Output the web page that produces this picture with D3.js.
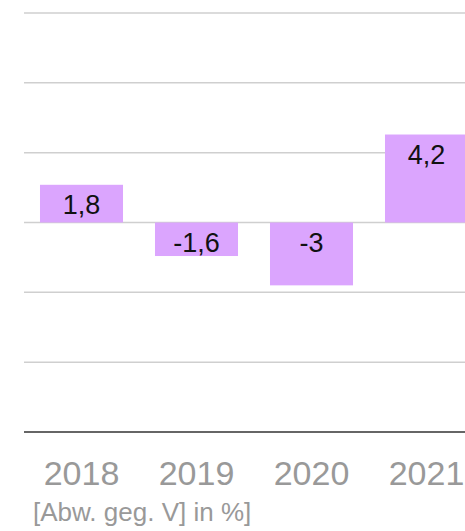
<!DOCTYPE html>
<html>
<head>
<meta charset="utf-8">
<script src="https://cdn.jsdelivr.net/npm/d3@7"></script>
<style>
  body { margin: 0; background: #fff; }
  svg { display: block; font-family: "Liberation Sans", Arial, Helvetica, sans-serif; }
</style>
</head>
<body>
<div class="chart-output"></div>
<script>
var years = ["2018", "2019", "2020", "2021"];
var values = [1.8, -1.6, -3, 4.2];
var valueLabels = ["1,8", "-1,6", "-3", "4,2"];
var gridTicks = [10, 20 / 3, 10 / 3, 0, -10 / 3, -20 / 3];
var unitLabel = "[Abw. geg. V] in %]";

var w = 465;
var h = 531;

var svg = d3.select(".chart-output")
            .append("svg")
            .attr("width", w)
            .attr("height", h);

var x = d3.scaleBand()
          .domain(years)
          .range([24, 484])
          .paddingInner(0.278)
          .paddingOuter(0.139);

var y = d3.scaleLinear()
          .domain([-10, 10])
          .range([432, 13]);

// gridlines
svg.selectAll("line.grid")
    .data(gridTicks)
    .enter()
    .append("line")
    .attr("class", "grid")
    .attr("x1", 24)
    .attr("x2", w)
    .attr("y1", function(d) { return y(d); })
    .attr("y2", function(d) { return y(d); })
    .attr("stroke", "#cfcfcf")
    .attr("stroke-width", 1.5);

// bars
svg.selectAll("rect")
    .data(values)
    .enter()
    .append("rect")
    .attr("x", function(d, i) { return x(years[i]); })
    .attr("y", function(d) { return Math.min(y(d), y(0)); })
    .attr("width", x.bandwidth())
    .attr("height", function(d) { return Math.abs(y(d) - y(0)); })
    .attr("fill", "#dba5fe");

// baseline at bottom
svg.append("line")
    .attr("x1", 24)
    .attr("x2", w)
    .attr("y1", y(-10))
    .attr("y2", y(-10))
    .attr("stroke", "#333")
    .attr("stroke-width", 1.5);

// value labels
svg.selectAll("text.val")
    .data(values)
    .enter()
    .append("text")
    .attr("class", "val")
    .attr("x", function(d, i) { return x(years[i]) + x.bandwidth() / 2; })
    .attr("y", function(d) { return Math.min(y(d), y(0)) + 29; })
    .attr("text-anchor", "middle")
    .attr("font-size", 27)
    .attr("fill", "#111")
    .text(function(d, i) { return valueLabels[i]; });

// x axis
var xAxis = svg.append("g")
    .attr("transform", "translate(0," + y(-10) + ")")
    .call(d3.axisBottom(x).tickSize(0).tickPadding(0));
xAxis.select(".domain").remove();
xAxis.selectAll("text")
    .attr("dy", null)
    .attr("y", 53)
    .attr("font-size", 34)
    .attr("font-family", "Liberation Sans, Arial, sans-serif")
    .attr("fill", "#999");

svg.append("text")
    .attr("x", 33)
    .attr("y", 521)
    .attr("font-size", 26)
    .attr("fill", "#999")
    .text(unitLabel);
</script>
</body>
</html>
